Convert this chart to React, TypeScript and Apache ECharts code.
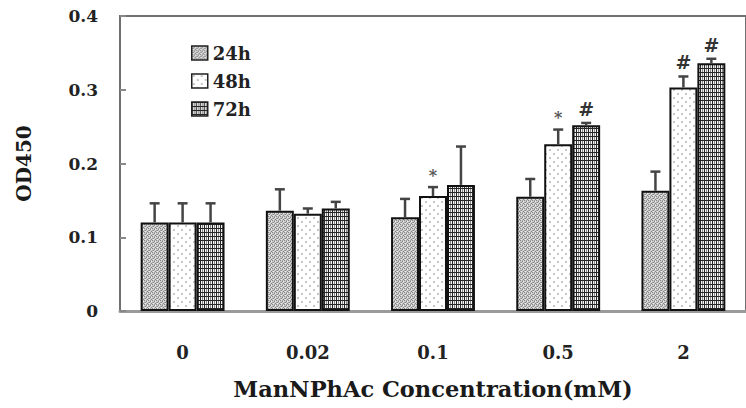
import React, { useEffect, useRef } from 'react';
import * as echarts from 'echarts';

const categories = ['0', '0.02', '0.1', '0.5', '2'];
const seriesNames = ['24h', '48h', '72h'];
const values24 = [0.120, 0.136, 0.127, 0.155, 0.163];
const errors24 = [0.026, 0.029, 0.025, 0.024, 0.026];
const values48 = [0.120, 0.132, 0.156, 0.226, 0.303];
const errors48 = [0.026, 0.007, 0.012, 0.020, 0.015];
const values72 = [0.120, 0.139, 0.171, 0.252, 0.336];
const errors72 = [0.026, 0.009, 0.052, 0.003, 0.006];
const marks24 = ['', '', '', '', ''];
const marks48 = ['', '', '*', '*', '#'];
const marks72 = ['', '', '', '#', '#'];
const yTickValues = [0, 0.1, 0.2, 0.3, 0.4];

const FONT = '"DejaVu Serif", "Liberation Serif", serif';

function makePattern(kind: string) {
  const c = document.createElement('canvas');
  const ctx = c.getContext('2d')!;
  if (kind === '24h') {
    c.width = 4; c.height = 4;
    ctx.fillStyle = '#cdcdcd'; ctx.fillRect(0, 0, 4, 4);
    ctx.fillStyle = '#858585';
    ctx.fillRect(0, 0, 1, 1); ctx.fillRect(2, 1, 1, 1);
    ctx.fillRect(1, 2, 1, 1); ctx.fillRect(3, 3, 1, 1);
    ctx.fillStyle = '#a4a4a4';
    ctx.fillRect(2, 0, 1, 1); ctx.fillRect(0, 2, 1, 1);
    ctx.fillStyle = '#ececec';
    ctx.fillRect(3, 1, 1, 1); ctx.fillRect(1, 3, 1, 1);
  } else if (kind === '48h') {
    c.width = 8; c.height = 8;
    ctx.fillStyle = '#ffffff'; ctx.fillRect(0, 0, 8, 8);
    ctx.fillStyle = '#c6c6c6';
    ctx.fillRect(1, 1, 2, 2);
    ctx.fillRect(5, 5, 2, 2);
  } else {
    c.width = 4; c.height = 4;
    ctx.fillStyle = '#f2f2f2'; ctx.fillRect(0, 0, 4, 4);
    ctx.fillStyle = '#8a8a8a';
    ctx.fillRect(2, 0, 1, 4);
    ctx.fillStyle = '#262626';
    ctx.fillRect(0, 0, 1, 4);
    ctx.fillRect(0, 0, 4, 1);
  }
  return { image: c, repeat: 'repeat' } as any;
}

export default function App() {
  const ref = useRef<HTMLDivElement>(null);
  useEffect(() => {
    if (!ref.current) return;
    const chart = echarts.init(ref.current, null, { renderer: 'svg' });
    const values = [values24, values48, values72];
    const errors = [errors24, errors48, errors72];
    const marks = [marks24, marks48, marks72];
    const patterns = [makePattern('24h'), makePattern('48h'), makePattern('72h')];

    const errData: any[] = [];
    for (let s = 0; s < 3; s++) {
      for (let i = 0; i < categories.length; i++) {
        errData.push([i, s, values[s][i], errors[s][i]]);
      }
    }

    const barSeries = seriesNames.map((name, s) => ({
      name,
      type: 'bar',
      data: values[s],
      barGap: '0%',
      barCategoryGap: '33%',
      itemStyle: {
        color: patterns[s],
        borderColor: '#111',
        borderWidth: 2,
      },
      z: 2,
    }));

    const option: any = {
      animation: false,
      backgroundColor: '#ffffff',
      grid: {
        left: 120,
        top: 16,
        width: 638,
        height: 295,
        show: true,
        borderColor: '#707070',
        borderWidth: 2,
      },
      legend: {
        orient: 'vertical',
        left: 186,
        top: 38,
        itemWidth: 16,
        itemHeight: 14,
        itemGap: 8,
        icon: 'rect',
        data: seriesNames,
        textStyle: { fontFamily: FONT, fontWeight: 'bold', fontSize: 18, color: '#222', lineHeight: 20 },
        itemStyle: { borderColor: '#222', borderWidth: 1.5 },
      },
      xAxis: {
        type: 'category',
        data: categories,
        name: 'ManNPhAc Concentration(mM)',
        nameLocation: 'middle',
        nameGap: 66,
        nameTextStyle: { fontFamily: FONT, fontWeight: 'bold', fontSize: 22.5, color: '#1a1a1a' },
        axisLine: { lineStyle: { color: '#9a9a9a', width: 3 } },
        axisTick: { inside: true, length: 5, lineStyle: { color: '#777', width: 2 } },
        axisLabel: { margin: 32, fontFamily: FONT, fontWeight: 'bold', fontSize: 18, color: '#222' },
        splitLine: { show: false },
      },
      yAxis: {
        type: 'value',
        min: 0,
        max: 0.4,
        interval: 0.1,
        name: 'OD450',
        nameLocation: 'middle',
        nameGap: 86,
        nameRotate: 90,
        nameTextStyle: { fontFamily: FONT, fontWeight: 'bold', fontSize: 20, color: '#1a1a1a' },
        axisLine: { show: true, lineStyle: { color: '#707070', width: 2 } },
        axisTick: { show: true, inside: true, length: 6, lineStyle: { color: '#888', width: 2 } },
        axisLabel: {
          margin: 22,
          fontFamily: FONT,
          fontWeight: 'bold',
          fontSize: 17,
          color: '#222',
          formatter: (v: number) => {
            const t = yTickValues.find((x) => Math.abs(x - v) < 1e-9);
            return t === 0 ? '0' : String(t ?? v);
          },
        },
        splitLine: { show: false },
      },
      series: [
        ...barSeries,
        {
          type: 'custom',
          name: 'errors',
          data: errData,
          encode: { x: 0, y: 2 },
          z: 5,
          silent: true,
          renderItem: (params: any, api: any) => {
            const cat = api.value(0);
            const s = api.value(1);
            const v = api.value(2);
            const e = api.value(3);
            const band = api.size([1, 0])[0];
            const bw = (band * 0.67) / 3;
            const cx = api.coord([cat, 0])[0] + (s - 1) * bw;
            const yTop = api.coord([cat, v])[1];
            const yErr = api.coord([cat, v + e])[1];
            const mark = marks[s][cat];
            const children: any[] = [
              {
                type: 'line',
                shape: { x1: cx, y1: yTop, x2: cx, y2: yErr },
                style: { stroke: '#444', lineWidth: 2.5 },
              },
              {
                type: 'line',
                shape: { x1: cx - 5, y1: yErr, x2: cx + 5, y2: yErr },
                style: { stroke: '#444', lineWidth: 2.5 },
              },
            ];
            if (mark) {
              children.push({
                type: 'text',
                x: cx,
                y: yErr - (mark === '*' ? 12 : 14),
                style: {
                  text: mark,
                  fontFamily: FONT,
                  fontWeight: 'bold',
                  fontSize: mark === '*' ? 16 : 19,
                  fill: mark === '*' ? '#555' : '#333',
                  align: 'center',
                  verticalAlign: 'middle',
                },
              });
            }
            return { type: 'group', children };
          },
        },
      ],
    };
    chart.setOption(option);
    return () => chart.dispose();
  }, []);
  return <div ref={ref} style={{ width: 746, height: 408, position: 'absolute', left: 0, top: 0 }} />;
}
